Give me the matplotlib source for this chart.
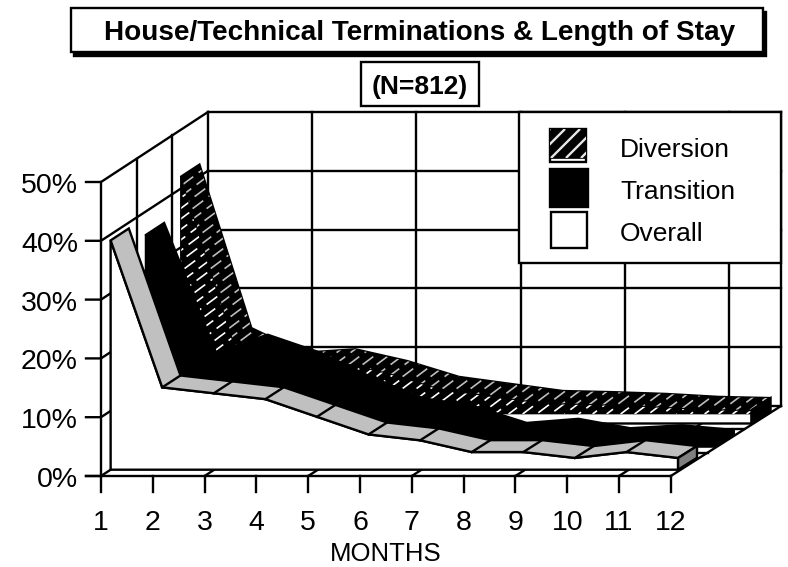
import matplotlib
matplotlib.use("Agg")
import numpy as np
import matplotlib.pyplot as plt
from matplotlib.patches import Rectangle, Polygon

plt.rcParams['font.family'] = ['Liberation Sans', 'DejaVu Sans']

months = list(range(1, 13))
pct_ticks = [0, 10, 20, 30, 40, 50]
overall = [39, 14, 13, 12, 9, 6, 5, 3, 3, 2, 3, 2]
transition = [36, 14, 17, 14, 9.8, 6.2, 4.8, 2, 2.7, 1.1, 1.6, 0.8]
diversion = [42, 14.2, 10, 10.6, 8.6, 5.9, 4.7, 3.5, 3.3, 3, 2.5, 2.3]
legend_names = ['Diversion', 'Transition', 'Overall']

# frame geometry, in pixels
X0, Y0 = 101, 476
PX_PCT = 5.88
DEPTH_X, DEPTH_Y = 107, -70
STEP = 51.8
BACK_STEP = 52.09
SERIES_STEP = 51.55
SERIES_STEP_D = 0.4
FS = 20.5
LEGEND_FS = 19
LW = 1.7

fig = plt.figure(figsize=(7.88, 5.67), dpi=100)
ax = fig.add_axes([0, 0, 1, 1])
ax.set_xlim(0, 788)
ax.set_ylim(567, 0)
ax.axis('off')


def frame_pt(m, d, v):
    x = X0 + (m - 1) * (STEP + d * (BACK_STEP - STEP)) + d * DEPTH_X
    return x, Y0 + d * DEPTH_Y - v * PX_PCT


def series_xy(vals, d):
    m = np.array(months)
    v = np.array(vals, dtype=float)
    x = X0 + (m - 1) * (SERIES_STEP + d * SERIES_STEP_D) + d * DEPTH_X
    return x, Y0 + d * DEPTH_Y - v * PX_PCT, Y0 + d * DEPTH_Y


def line(xs, ys, z=1, lw=LW, color='black'):
    ax.plot(xs, ys, color=color, lw=lw, zorder=z, solid_capstyle='projecting')


def hatch(poly, color, z, slope=0.75, gap=14, lw=1.2, dash=(8, 4)):
    # dashed diagonal strokes clipped to the polygon
    patch = Polygon(poly, closed=True, fc='none', ec='none', zorder=z)
    ax.add_patch(patch)
    xmin, ymin = np.min(poly, axis=0)
    xmax, ymax = np.max(poly, axis=0)
    h = ymax - ymin
    for x in np.arange(xmin - gap, xmax + h / slope + gap, gap):
        ln, = ax.plot([x, x - h / slope], [ymin, ymax], color=color, lw=lw,
                      zorder=z, dashes=dash)
        ln.set_clip_path(patch)


# back wall, left wall and floor
for v in pct_ticks:
    x1, y1 = frame_pt(1, 0, v)
    x2, y2 = frame_pt(1, 1, v)
    line([x1 - 15, x1, x2], [y1, y1, y2])
    x3, y3 = frame_pt(12, 1, v)
    line([x2, x3], [y2, y3])
for m in [1, 3, 5, 7, 9, 11, 12]:
    xb, yb = frame_pt(m, 1, 0)
    xt, yt = frame_pt(m, 1, 50)
    line([xb, xb], [yb, yt])
    if m != 1:
        xf, yf = frame_pt(m, 0, 0)
        line([xf, xb], [yf, yb])
for d in [1 / 3, 2 / 3]:
    xb, yb = frame_pt(1, d, 0)
    xt, yt = frame_pt(1, d, 50)
    line([xb, xb], [yb, yt])
    xe, ye = frame_pt(12, d, 0)
    line([xb, xe], [yb, ye])
x1, y1 = frame_pt(1, 0, 50)
line([x1, x1], [y1, Y0])

# Diversion, the rear ribbon
z = 3
d1, d2 = 0.75, 0.92
xf, yf, bf = series_xy(diversion, d1)
xb, yb, bb = series_xy(diversion, d2)
hatch_floor = 414
ribbon = np.column_stack([np.r_[xf, xb[::-1]], np.r_[yf, yb[::-1]]])
curtain_white = np.column_stack([np.r_[xf[0], xf, xf[-1]], np.r_[bf, yf, bf]])
ax.fill(curtain_white[:, 0], curtain_white[:, 1], fc='white', ec='black', lw=LW, zorder=z)
curtain = np.column_stack([np.r_[xf[0], xf, xf[-1]], np.r_[hatch_floor, yf, hatch_floor]])
ax.fill(curtain[:, 0], curtain[:, 1], fc='black', ec='black', lw=0.5, zorder=z)
hatch(curtain, 'white', z)
ax.fill(ribbon[:, 0], ribbon[:, 1], fc='black', ec='black', lw=LW, zorder=z)
hatch(ribbon, '#bdbdbd', z)
ax.fill([xf[-1], xf[-1], xb[-1], xb[-1]], [bf, yf[-1], yb[-1], bb], fc='black', ec='black',
        lw=LW, zorder=z)

# Transition, solid black
z = 5
d1, d2 = 0.42, 0.59
xf, yf, bf = series_xy(transition, d1)
xb, yb, bb = series_xy(transition, d2)
ax.fill(np.r_[xf[0], xf, xf[-1]], np.r_[bf, yf, bf], fc='black', ec='black', lw=LW, zorder=z)
ax.fill(np.r_[xf, xb[::-1]], np.r_[yf, yb[::-1]], fc='black', ec='black', lw=LW, zorder=z)
ax.fill([xf[-1], xf[-1], xb[-1], xb[-1]], [bf, yf[-1], yb[-1], bb], fc='black', ec='black',
        lw=LW, zorder=z)

# Overall, white curtain under a grey ribbon
z = 7
d1, d2 = 0.09, 0.26
xf, yf, bf = series_xy(overall, d1)
xb, yb, bb = series_xy(overall, d2)
ax.fill(np.r_[xf[0], xf, xf[-1]], np.r_[bf, yf, bf], fc='white', ec='black', lw=LW, zorder=z)
ax.fill(np.r_[xf, xb[::-1]], np.r_[yf, yb[::-1]], fc='#c0c0c0', ec='black', lw=LW, zorder=z)
for i in range(1, 11):
    line([xf[i], xb[i]], [yf[i], yb[i]], z=z)
ax.fill([xf[-1], xf[-1], xb[-1], xb[-1]], [bf, yf[-1], yb[-1], bb], fc='#808080', ec='black',
        lw=LW, zorder=z)

# front axis on top
line([X0, frame_pt(12, 0, 0)[0]], [Y0, Y0], z=9)
line([X0 - 15, X0], [Y0, Y0], z=9)
for m in months:
    x = frame_pt(m, 0, 0)[0]
    line([x, x], [Y0, 492], z=9)
    ax.text(x, 523, str(m), ha='center', va='center', fontsize=FS, zorder=9)
for v in pct_ticks:
    ax.text(78, Y0 - v * PX_PCT + 4, f'{v}%', ha='right', va='center', fontsize=FS, zorder=9)
ax.text(386, 554, 'MONTHS', ha='center', va='center', fontsize=18.5, zorder=9)

# legend
ax.add_patch(Rectangle((519, 112), 262, 151, fc='white', ec='black', lw=LW, zorder=10))
ax.add_patch(Rectangle((550, 129), 36, 33, fc='white', ec='black', lw=LW, zorder=11))
sw = np.array([[550, 129], [586, 129], [586, 158], [550, 158]])
ax.fill(sw[:, 0], sw[:, 1], fc='black', ec='black', lw=0.5, zorder=11)
hatch(sw, '#e6e6e6', 11, slope=1.0, gap=15, lw=1.7, dash=(100, 0))
ax.add_patch(Rectangle((550, 169), 38, 38, fc='black', ec='black', lw=LW, zorder=11))
ax.add_patch(Rectangle((551, 212), 36, 36, fc='white', ec='black', lw=LW, zorder=11))
for name, y in zip(legend_names, [150, 192, 234]):
    ax.text(620, y, name, ha='left', va='center', fontsize=LEGEND_FS, zorder=12)

# title boxes
ax.add_patch(Rectangle((74, 12), 692, 44, fc='black', ec='black', lw=LW, zorder=12))
ax.add_patch(Rectangle((71, 8), 692, 44, fc='white', ec='black', lw=LW, zorder=13))
ax.text(419.5, 33, 'House/Technical Terminations & Length of Stay', ha='center', va='center',
        fontsize=20.1, fontweight='bold', zorder=14)
ax.add_patch(Rectangle((361, 62), 118, 44, fc='white', ec='black', lw=LW, zorder=13))
ax.text(420, 87, '(N=812)', ha='center', va='center', fontsize=19, fontweight='bold', zorder=14)

fig.savefig('out.png', dpi=100)
